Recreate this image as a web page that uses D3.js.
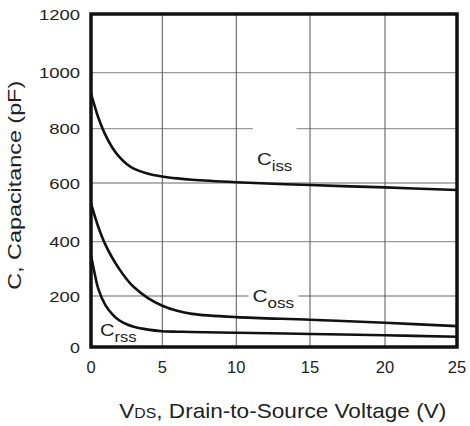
<!DOCTYPE html>
<html>
<head>
<meta charset="utf-8">
<script src="https://cdn.jsdelivr.net/npm/d3@7"></script>
<style>
  html, body { margin: 0; padding: 0; background: #fff; }
  svg { display: block; font-family: "Liberation Sans", Arial, sans-serif; }
</style>
</head>
<body>
<svg id="chart" width="470" height="426"></svg>
<script>
// ---- data ----
const vds = [0, 0.25, 0.5, 1, 1.5, 2, 2.5, 3, 4, 5, 6, 7, 10, 15, 20, 25];
const ciss = [925, 882, 842, 778, 730, 695, 670, 653, 634, 624, 617, 612, 603, 593, 585, 576];
const coss = [530, 490, 452, 390, 340, 298, 262, 233, 192, 162, 142, 130, 117, 107, 95, 82];
const crss = [350, 285, 228, 165, 128, 104, 89, 79, 68, 62, 60, 59, 56, 51, 46, 40];
const seriesNames = ["iss", "oss", "rss"];
const labelPos = [[11.4, 666], [11.1, 178], [0.63, 43]];
const xTicks = [0, 5, 10, 15, 20, 25];
const yTicks = [0, 200, 400, 600, 800, 1000, 1200];
const xTitle = ["V", "DS", ", Drain-to-Source Voltage (V)"];
const yTitle = "C, Capacitance (pF)";

// ---- scales (piecewise linear, matching the scanned grid) ----
const x = d3.scaleLinear().domain(xTicks).range([91, 162.3, 236.3, 310, 385, 457]);
const y = d3.scaleLinear().domain(yTicks).range([347, 296, 241.7, 183, 128.7, 72.7, 14]);

const svg = d3.select("#chart");
const textColor = "#222";

function stretch(sel, targetW) {
  const bb = sel.node().getBBox();
  return targetW / bb.width;
}

// grid
const grid = svg.append("g");
grid.selectAll("line.h").data(yTicks.slice(1, -1)).join("line")
  .attr("x1", x(0)).attr("x2", x(25))
  .attr("y1", d => y(d)).attr("y2", d => y(d))
  .attr("stroke", "#9a9a9a").attr("stroke-width", 1.3);
grid.selectAll("line.v").data(xTicks.slice(1, -1)).join("line")
  .attr("y1", y(0)).attr("y2", y(1200))
  .attr("x1", d => x(d)).attr("x2", d => x(d))
  .attr("stroke", "#555").attr("stroke-width", 1);

// label backgrounds (gaps in grid)
const labelG = svg.append("g");
const curveG = svg.append("g");

// curves
const all = [ciss, coss, crss];
const line = d3.line().x((d, i) => x(vds[i])).y(d => y(d)).curve(d3.curveCatmullRom.alpha(0.5));
curveG.selectAll("path").data(all).join("path")
  .attr("d", d => line(d))
  .attr("fill", "none").attr("stroke", "#111").attr("stroke-width", 2.6)
  .attr("stroke-linejoin", "round");

// curve labels
const labelWidths = [35.3, 41.7, 36.7];
seriesNames.forEach((s, i) => {
  const [lv, lc] = labelPos[i];
  const t = labelG.append("text").attr("fill", textColor).attr("x", 0).attr("y", 0);
  t.append("tspan").attr("font-size", 17).text("C");
  t.append("tspan").attr("font-size", 14).attr("dy", 6).text(s);
  const k = stretch(t, labelWidths[i]);
  t.attr("transform", `translate(${x(lv)},${y(lc)}) scale(${k},1)`);
  const bb = t.node().getBBox();
  if (i < 2) {
    labelG.insert("rect", "text")
      .attr("x", x(lv) - 4).attr("y", y(lc) - (i === 0 ? 40 : 16))
      .attr("width", bb.width * k + 8).attr("height", i === 0 ? 50 : 26)
      .attr("fill", "#fff");
  }
});

// frame
svg.append("rect")
  .attr("x", x(0)).attr("y", y(1200))
  .attr("width", x(25) - x(0)).attr("height", y(0) - y(1200))
  .attr("fill", "none").attr("stroke", "#111").attr("stroke-width", 3.5);

// y tick labels
yTicks.forEach(v => {
  const t = svg.append("text").attr("fill", textColor).attr("font-size", 15.5)
    .attr("text-anchor", "end").attr("x", 0).attr("y", 0).text(String(v));
  const k = stretch(t, String(v).length * 10.4);
  t.attr("transform", `translate(80,${y(v) + 5.5}) scale(${k},1)`);
});

// x tick labels
svg.selectAll("text.xt").data(xTicks).join("text")
  .attr("class", "xt").attr("fill", textColor).attr("font-size", 16.5)
  .attr("text-anchor", "middle")
  .attr("x", d => x(d)).attr("y", 372.7).text(d => d);

// x title
const xt = svg.append("text").attr("fill", textColor).attr("x", 0).attr("y", 0);
xt.append("tspan").attr("font-size", 20).text(xTitle[0]);
xt.append("tspan").attr("font-size", 14).text(xTitle[1]);
xt.append("tspan").attr("font-size", 20).text(xTitle[2]);
const kx = stretch(xt, 327);
xt.attr("transform", `translate(119.3,417.5) scale(${kx},1)`);

// y title
const yt = svg.append("text").attr("fill", textColor).attr("font-size", 19)
  .attr("text-anchor", "middle").attr("x", 0).attr("y", 0).text(yTitle);
const ky = stretch(yt, 209);
yt.attr("transform", `translate(20.7,185.3) rotate(-90) scale(${ky},1)`);
</script>
</body>
</html>
